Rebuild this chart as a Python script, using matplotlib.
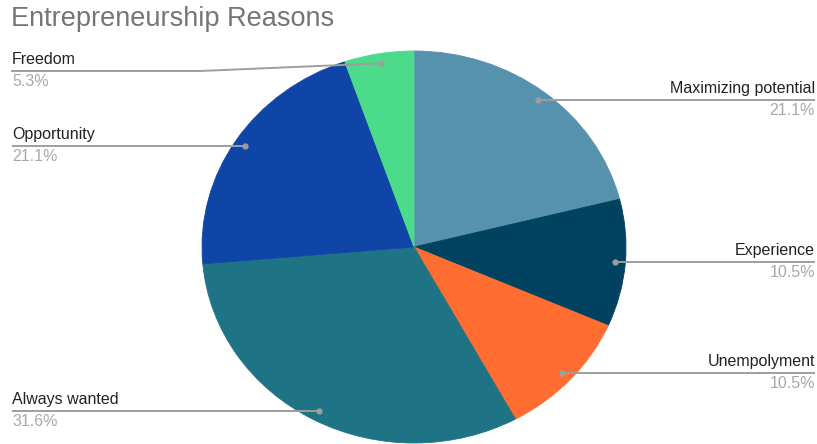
import numpy as np
import matplotlib.pyplot as plt

plt.rcParams['font.family'] = ['Liberation Sans', 'DejaVu Sans']

labels = ["Maximizing potential", "Experience", "Unempolyment",
          "Always wanted", "Opportunity", "Freedom"]
shares = [21.1, 10.5, 10.5, 31.6, 21.1, 5.3]
colors = ["#5691ae", "#00425f", "#ff6d31", "#1e7485", "#1045a8", "#4cdb8b"]

W, H = 817, 444
fig = plt.figure(figsize=(W / 100, H / 100), dpi=100)

# pie box in pixels (left, top, right, bottom); the chart is slightly stretched
px0, py0, px1, py1 = 202, 51, 626, 443
ax = fig.add_axes([px0 / W, (H - py1) / H, (px1 - px0) / W, (py1 - py0) / H])
wedges, _ = ax.pie(shares, colors=colors, startangle=90, counterclock=False,
                   wedgeprops={'linewidth': 0.6})
for w, c in zip(wedges, colors):
    w.set_edgecolor(c)
ax.set_aspect('auto')
ax.set_xlim(-1, 1)
ax.set_ylim(-1, 1)

# overlay in pixel coords for title and leader labels
ov = fig.add_axes([0, 0, 1, 1], zorder=5)
ov.set_xlim(0, W)
ov.set_ylim(H, 0)
ov.axis('off')
ov.patch.set_alpha(0)

ov.text(11, 19, "Entrepreneurship Reasons", fontsize=19.5, color="#757575",
        va='center', ha='left')

to_px = ax.transData + ov.transData.inverted()
line_c = "#9e9e9e"
for w, name, val in zip(wedges, labels, shares):
    mid = np.deg2rad((w.theta1 + w.theta2) / 2)
    dx, dy = to_px.transform((0.95 * np.cos(mid), 0.95 * np.sin(mid)))
    if np.cos(mid) >= 0:
        ly = dy
        ov.plot([dx, 815], [ly, ly], color=line_c, lw=1.4, solid_capstyle='butt')
        tx, ha = 815, 'right'
    else:
        ly = max(dy, 71)
        if ly != dy:
            ov.plot([12, 200, dx], [ly, ly, dy], color=line_c, lw=1.4)
        else:
            ov.plot([12, dx], [ly, ly], color=line_c, lw=1.4, solid_capstyle='butt')
        tx, ha = 12, 'left'
    ov.plot(dx, dy, 'o', ms=4.5, color=line_c, mec='none')
    ov.text(tx, ly - 4, name, fontsize=11.5, color="#222222", ha=ha, va='bottom')
    ov.text(tx, ly + 3, f"{val}%", fontsize=11.5, color="#a8a8a8", ha=ha, va='top')

fig.savefig("out.png", dpi=100)
